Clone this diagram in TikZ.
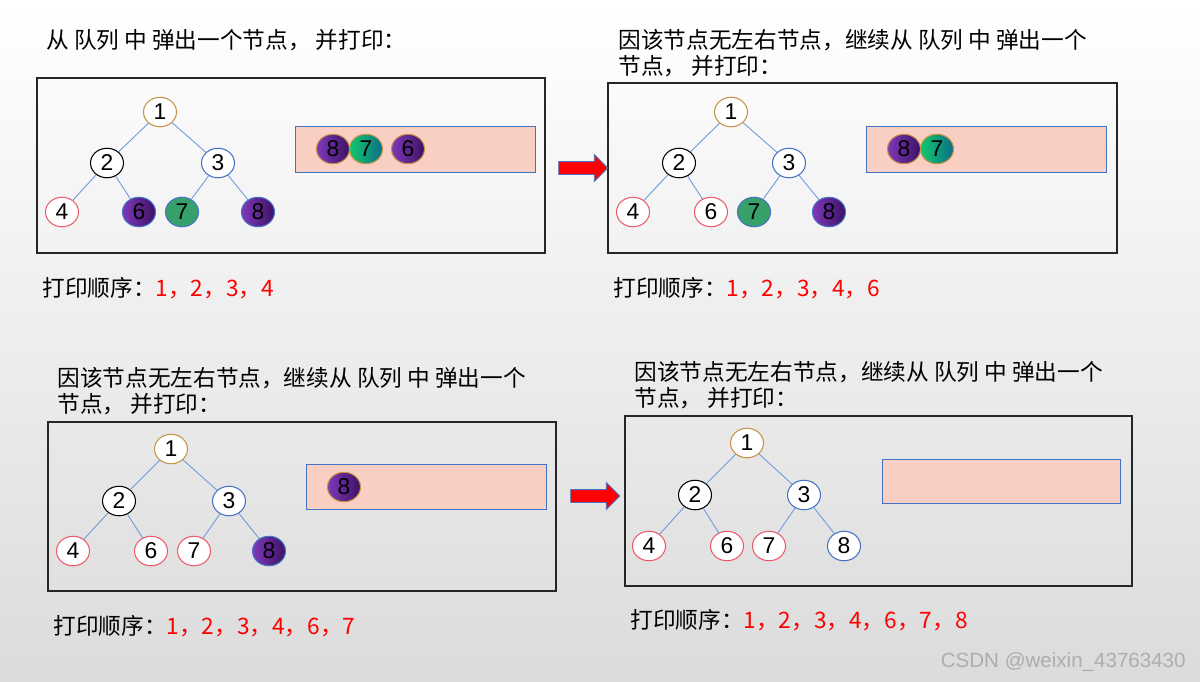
\documentclass[tikz,border=0pt]{standalone}
\usepackage{fontspec}
\setmainfont{Liberation Sans}
\newfontfamily\cjk{Noto Sans CJK SC}
\usepackage{tikz}
\usetikzlibrary{shapes.geometric,shapes.arrows}
\definecolor{bluex}{HTML}{4472C4}
\definecolor{tanx}{HTML}{C69246}
\definecolor{redx}{HTML}{EC5B6C}
\definecolor{edgeblue}{HTML}{6C9BDD}
\definecolor{purL}{HTML}{8038BA}
\definecolor{purD}{HTML}{3C1264}
\definecolor{grnL}{HTML}{12C86E}
\definecolor{grnD}{HTML}{0B6E88}
\definecolor{greenx}{HTML}{38A06B}
\definecolor{qfill}{HTML}{F9CFC4}
\tikzset{
  nd/.style={ellipse,draw,line width=0.6pt,inner sep=0pt,minimum width=0.66cm,minimum height=0.59cm,fill=white,font=\fontsize{13}{13}\selectfont},
  root/.style={nd,draw=tanx},
  lft/.style={nd,draw=black},
  rgt/.style={nd,draw=bluex},
  done/.style={nd,draw=redx},
  pur/.style={nd,draw=bluex,left color=purL,right color=purD},
  grn/.style={nd,draw=bluex,fill=greenx},
  qpur/.style={nd,draw=tanx,left color=purL,right color=purD},
  qgrn/.style={nd,draw=tanx,left color=grnL,right color=grnD},
  lnk/.style={draw=edgeblue,line width=0.5pt},
  pnl/.style={draw=black!85,line width=0.8pt},
  qbox/.style={draw=bluex,fill=qfill,line width=0.5pt},
  txt/.style={font=\cjk\fontsize{12.9}{14.8}\selectfont,inner sep=0pt,anchor=west,align=left},
  bigarr/.style={single arrow,draw=bluex,fill=red,line width=0.5pt,inner xsep=0pt,inner ysep=0.12cm,single arrow head extend=0.14cm,minimum height=0.98cm}
}
\begin{document}
\begin{tikzpicture}[x=0.02cm,y=-0.02cm]
\useasboundingbox (0,0) rectangle (1200,681);
\shade[top color=white,bottom color=black!14] (0,0) rectangle (1200,681);
% titles
\node[txt] (t1) at (46,40) {从 队列 中 弹出一个节点， 并打印：};
\node[txt] (t2) at (618,53) {因该节点无左右节点，继续从 队列 中 弹出一个\\节点， 并打印：};
\node[txt] (t3) at (57,391) {因该节点无左右节点，继续从 队列 中 弹出一个\\节点， 并打印：};
\node[txt] (t4) at (634,385) {因该节点无左右节点，继续从 队列 中 弹出一个\\节点， 并打印：};
% frames and queues
\draw[pnl] (37,78) rectangle (545,253);
\draw[pnl] (608,83) rectangle (1117,253);
\draw[pnl] (48,422) rectangle (556,591);
\draw[pnl] (625,416) rectangle (1132,586);
\draw[qbox] (295,126) rectangle (535,172);
\draw[qbox] (866,126) rectangle (1106,172);
\draw[qbox] (306,464) rectangle (546,509);
\draw[qbox] (882,459) rectangle (1120,503);
% panel a
\node[root] (a1) at (160,112) {1};
\node[lft] (a2) at (107,163) {2};
\node[rgt] (a3) at (218,163) {3};
\node[done] (a4) at (62,212) {4};
\node[pur] (a6) at (139,212) {6};
\node[grn] (a7) at (182,212) {7};
\node[pur] (a8) at (258,212) {8};
\node[qpur] (aq8) at (333,149) {8};
\node[qgrn] (aq7) at (366,149) {7};
\node[qpur] (aq6) at (408,149) {6};
% panel b
\node[root] (b1) at (731,112) {1};
\node[lft] (b2) at (679,163) {2};
\node[rgt] (b3) at (789,163) {3};
\node[done] (b4) at (633,212) {4};
\node[done] (b6) at (711,212) {6};
\node[grn] (b7) at (754,212) {7};
\node[pur] (b8) at (829,212) {8};
\node[qpur] (bq8) at (904,149) {8};
\node[qgrn] (bq7) at (937,149) {7};
% panel c
\node[root] (c1) at (171,449) {1};
\node[lft] (c2) at (119,501) {2};
\node[rgt] (c3) at (229,501) {3};
\node[done] (c4) at (73,551) {4};
\node[done] (c6) at (151,551) {6};
\node[done] (c7) at (194,551) {7};
\node[pur] (c8) at (269,551) {8};
\node[qpur] (cq8) at (344,487) {8};
% panel d
\node[root] (d1) at (747,443) {1};
\node[lft] (d2) at (695,495) {2};
\node[rgt] (d3) at (804,495) {3};
\node[done] (d4) at (649,546) {4};
\node[done] (d6) at (727,546) {6};
\node[done] (d7) at (769,546) {7};
\node[rgt] (d8) at (844,546) {8};
\foreach \p in {a,b,c,d}{
  \foreach \s/\t in {1/2,1/3,2/4,2/6,3/7,3/8}
    \draw[lnk] (\p\s) -- (\p\t);
}
% arrows between steps
\node[bigarr] (ab) at (580,168) {};
\node[bigarr] (cd) at (592,496) {};
% print order
\node[txt] (o1) at (42,288) {打印顺序：\textcolor{red}{1，2，3，4}};
\node[txt] (o2) at (613,288) {打印顺序：\textcolor{red}{1，2，3，4，6}};
\node[txt] (o3) at (53,626) {打印顺序：\textcolor{red}{1，2，3，4，6，7}};
\node[txt] (o4) at (630,620) {打印顺序：\textcolor{red}{1，2，3，4，6，7，8}};
\node[anchor=east,inner sep=0pt,text=black!32,font=\fontsize{11.7}{12}\selectfont] (wm) at (1186,662) {CSDN @weixin\_43763430};
\end{tikzpicture}
\end{document}
